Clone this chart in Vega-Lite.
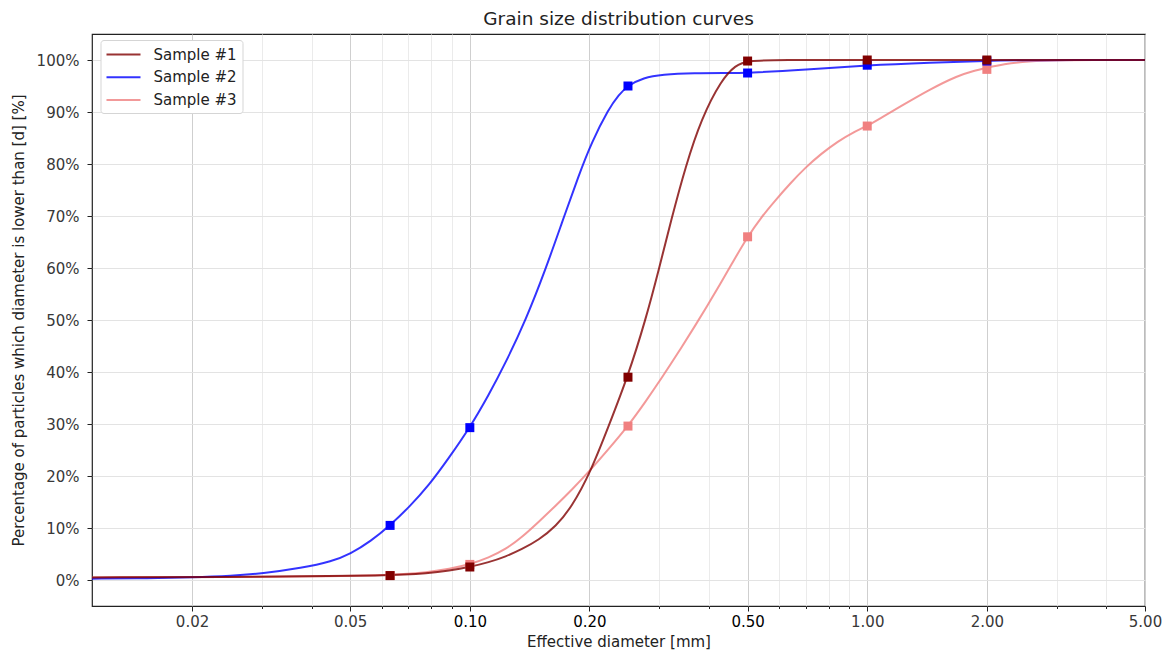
{
  "$schema": "https://vega.github.io/schema/vega-lite/v6.json",
  "width": 1053,
  "height": 572,
  "autosize": "none",
  "padding": {"left": 92, "top": 34, "right": 21, "bottom": 51},
  "background": "white",
  "config": {
    "font": "DejaVu Sans",
    "view": {"stroke": "#222", "strokeWidth": 1.2},
    "axis": {"domain": false, "labelFont": "DejaVu Sans", "titleFont": "DejaVu Sans", "labelFontSize": 15, "titleFontSize": 15, "titleFontWeight": "normal", "titleColor": "#222", "tickColor": "#222", "labelFlush": false, "labelOverlap": false}
  },
  "title": {"text": "Grain size distribution curves", "fontSize": 18.5, "fontWeight": "normal", "color": "#222", "offset": 6, "font": "DejaVu Sans", "anchor": "middle"},
  "datasets": {
    "curves": [
      {"sample": "Sample #3", "d": 0.0112, "pct": 0.5},
      {"sample": "Sample #3", "d": 0.03, "pct": 0.6},
      {"sample": "Sample #3", "d": 0.063, "pct": 0.85},
      {"sample": "Sample #3", "d": 0.0789, "pct": 1.5},
      {"sample": "Sample #3", "d": 0.0886, "pct": 2.1},
      {"sample": "Sample #3", "d": 0.1, "pct": 3.0},
      {"sample": "Sample #3", "d": 0.1116, "pct": 4.3},
      {"sample": "Sample #3", "d": 0.1231, "pct": 5.9},
      {"sample": "Sample #3", "d": 0.1351, "pct": 8.2},
      {"sample": "Sample #3", "d": 0.1491, "pct": 11.2},
      {"sample": "Sample #3", "d": 0.1645, "pct": 14.3},
      {"sample": "Sample #3", "d": 0.1804, "pct": 17.3},
      {"sample": "Sample #3", "d": 0.2014, "pct": 21.2},
      {"sample": "Sample #3", "d": 0.2235, "pct": 25.2},
      {"sample": "Sample #3", "d": 0.25, "pct": 29.6},
      {"sample": "Sample #3", "d": 0.2768, "pct": 34.3},
      {"sample": "Sample #3", "d": 0.3037, "pct": 38.8},
      {"sample": "Sample #3", "d": 0.335, "pct": 43.8},
      {"sample": "Sample #3", "d": 0.3697, "pct": 49.0},
      {"sample": "Sample #3", "d": 0.3985, "pct": 53.1},
      {"sample": "Sample #3", "d": 0.4298, "pct": 57.3},
      {"sample": "Sample #3", "d": 0.4633, "pct": 61.7},
      {"sample": "Sample #3", "d": 0.5, "pct": 66.0},
      {"sample": "Sample #3", "d": 0.5416, "pct": 69.8},
      {"sample": "Sample #3", "d": 0.587, "pct": 73.0},
      {"sample": "Sample #3", "d": 0.6405, "pct": 76.3},
      {"sample": "Sample #3", "d": 0.6987, "pct": 79.3},
      {"sample": "Sample #3", "d": 0.7662, "pct": 82.0},
      {"sample": "Sample #3", "d": 0.8455, "pct": 84.4},
      {"sample": "Sample #3", "d": 0.917, "pct": 86.0},
      {"sample": "Sample #3", "d": 1.0, "pct": 87.3},
      {"sample": "Sample #3", "d": 1.0905, "pct": 89.0},
      {"sample": "Sample #3", "d": 1.196, "pct": 90.8},
      {"sample": "Sample #3", "d": 1.448, "pct": 94.5},
      {"sample": "Sample #3", "d": 1.693, "pct": 97.0},
      {"sample": "Sample #3", "d": 1.846, "pct": 97.9},
      {"sample": "Sample #3", "d": 2.0, "pct": 98.5},
      {"sample": "Sample #3", "d": 2.196, "pct": 99.2},
      {"sample": "Sample #3", "d": 2.538, "pct": 99.8},
      {"sample": "Sample #3", "d": 3.02, "pct": 100},
      {"sample": "Sample #3", "d": 5.0, "pct": 100},
      {"sample": "Sample #2", "d": 0.0112, "pct": 0.25},
      {"sample": "Sample #2", "d": 0.0156, "pct": 0.35},
      {"sample": "Sample #2", "d": 0.02, "pct": 0.5},
      {"sample": "Sample #2", "d": 0.0252, "pct": 0.8},
      {"sample": "Sample #2", "d": 0.03, "pct": 1.25},
      {"sample": "Sample #2", "d": 0.0378, "pct": 2.3},
      {"sample": "Sample #2", "d": 0.045, "pct": 3.6},
      {"sample": "Sample #2", "d": 0.05, "pct": 5.0},
      {"sample": "Sample #2", "d": 0.0564, "pct": 7.5},
      {"sample": "Sample #2", "d": 0.063, "pct": 10.5},
      {"sample": "Sample #2", "d": 0.0703, "pct": 14.0},
      {"sample": "Sample #2", "d": 0.0789, "pct": 18.2},
      {"sample": "Sample #2", "d": 0.0886, "pct": 23.5},
      {"sample": "Sample #2", "d": 0.1, "pct": 29.3},
      {"sample": "Sample #2", "d": 0.1116, "pct": 35.6},
      {"sample": "Sample #2", "d": 0.1231, "pct": 41.8},
      {"sample": "Sample #2", "d": 0.1383, "pct": 50.0},
      {"sample": "Sample #2", "d": 0.1552, "pct": 59.8},
      {"sample": "Sample #2", "d": 0.1703, "pct": 68.6},
      {"sample": "Sample #2", "d": 0.1879, "pct": 77.8},
      {"sample": "Sample #2", "d": 0.2026, "pct": 84.2},
      {"sample": "Sample #2", "d": 0.2235, "pct": 90.6},
      {"sample": "Sample #2", "d": 0.2369, "pct": 93.3},
      {"sample": "Sample #2", "d": 0.25, "pct": 95.1},
      {"sample": "Sample #2", "d": 0.2736, "pct": 96.6},
      {"sample": "Sample #2", "d": 0.3037, "pct": 97.2},
      {"sample": "Sample #2", "d": 0.3697, "pct": 97.5},
      {"sample": "Sample #2", "d": 0.4346, "pct": 97.5},
      {"sample": "Sample #2", "d": 0.5, "pct": 97.5},
      {"sample": "Sample #2", "d": 0.7, "pct": 98.1},
      {"sample": "Sample #2", "d": 1.0, "pct": 99.0},
      {"sample": "Sample #2", "d": 1.45, "pct": 99.5},
      {"sample": "Sample #2", "d": 2.0, "pct": 99.85},
      {"sample": "Sample #2", "d": 2.6, "pct": 100},
      {"sample": "Sample #2", "d": 5.0, "pct": 100},
      {"sample": "Sample #1", "d": 0.0112, "pct": 0.5},
      {"sample": "Sample #1", "d": 0.03, "pct": 0.6},
      {"sample": "Sample #1", "d": 0.063, "pct": 0.85},
      {"sample": "Sample #1", "d": 0.0789, "pct": 1.3},
      {"sample": "Sample #1", "d": 0.0886, "pct": 1.8},
      {"sample": "Sample #1", "d": 0.1, "pct": 2.5},
      {"sample": "Sample #1", "d": 0.1116, "pct": 3.4},
      {"sample": "Sample #1", "d": 0.1231, "pct": 4.5},
      {"sample": "Sample #1", "d": 0.1351, "pct": 5.9},
      {"sample": "Sample #1", "d": 0.1491, "pct": 7.7},
      {"sample": "Sample #1", "d": 0.1645, "pct": 10.3},
      {"sample": "Sample #1", "d": 0.1804, "pct": 14.0},
      {"sample": "Sample #1", "d": 0.2014, "pct": 20.8},
      {"sample": "Sample #1", "d": 0.2235, "pct": 29.6},
      {"sample": "Sample #1", "d": 0.25, "pct": 39.2},
      {"sample": "Sample #1", "d": 0.2768, "pct": 50.0},
      {"sample": "Sample #1", "d": 0.2985, "pct": 59.5},
      {"sample": "Sample #1", "d": 0.3218, "pct": 69.5},
      {"sample": "Sample #1", "d": 0.3489, "pct": 79.5},
      {"sample": "Sample #1", "d": 0.3827, "pct": 88.8},
      {"sample": "Sample #1", "d": 0.4298, "pct": 96.2},
      {"sample": "Sample #1", "d": 0.466, "pct": 99.0},
      {"sample": "Sample #1", "d": 0.5, "pct": 99.9},
      {"sample": "Sample #1", "d": 0.6, "pct": 100},
      {"sample": "Sample #1", "d": 1.0, "pct": 100},
      {"sample": "Sample #1", "d": 2.0, "pct": 100},
      {"sample": "Sample #1", "d": 5.0, "pct": 100}
    ],
    "points": [
      {"sample": "Sample #3", "d": 0.063, "pct": 0.85},
      {"sample": "Sample #3", "d": 0.1, "pct": 3.0},
      {"sample": "Sample #3", "d": 0.25, "pct": 29.6},
      {"sample": "Sample #3", "d": 0.5, "pct": 66.0},
      {"sample": "Sample #3", "d": 1.0, "pct": 87.3},
      {"sample": "Sample #3", "d": 2.0, "pct": 98.2},
      {"sample": "Sample #2", "d": 0.063, "pct": 10.5},
      {"sample": "Sample #2", "d": 0.1, "pct": 29.3},
      {"sample": "Sample #2", "d": 0.25, "pct": 95.0},
      {"sample": "Sample #2", "d": 0.5, "pct": 97.5},
      {"sample": "Sample #2", "d": 1.0, "pct": 99.0},
      {"sample": "Sample #2", "d": 2.0, "pct": 99.8},
      {"sample": "Sample #1", "d": 0.063, "pct": 0.85},
      {"sample": "Sample #1", "d": 0.1, "pct": 2.5},
      {"sample": "Sample #1", "d": 0.25, "pct": 39.0},
      {"sample": "Sample #1", "d": 0.5, "pct": 99.8},
      {"sample": "Sample #1", "d": 1.0, "pct": 100},
      {"sample": "Sample #1", "d": 2.0, "pct": 100}
    ]
  },
  "encoding": {
    "x": {
      "field": "d",
      "type": "quantitative",
      "scale": {"type": "log", "domain": [0.0112, 5], "nice": false},
      "axis": {
        "title": "Effective diameter [mm]",
        "values": [0.02, 0.03, 0.04, 0.05, 0.06, 0.07, 0.08, 0.09, 0.1, 0.2, 0.3, 0.4, 0.5, 0.6, 0.7, 0.8, 0.9, 1, 2, 3, 4, 5],
        "labelExpr": "indexof([0.02, 0.05, 0.1, 0.2, 0.5, 1, 2, 5], datum.value) >= 0 ? format(datum.value, '.2f') : ''",
        "gridColor": {"condition": {"test": "indexof([0.02, 0.05, 0.1, 0.2, 0.5, 1, 2, 5], datum.value) >= 0", "value": "#cfcfcf"}, "value": "#ebebeb"},
        "tickSize": {"condition": {"test": "indexof([0.02, 0.05, 0.1, 0.2, 0.5, 1, 2, 5], datum.value) >= 0", "value": 5}, "value": 2.5},
        "labelColor": {"condition": {"test": "indexof([0.1, 0.2, 0.5], datum.value) >= 0", "value": "#000"}, "value": "#383838"},
        "labelPadding": 3,
        "titlePadding": 5
      }
    },
    "y": {
      "field": "pct",
      "type": "quantitative",
      "scale": {"domain": [-5, 105], "nice": false, "zero": false},
      "axis": {
        "title": "Percentage of particles which diameter is lower than [d] [%]",
        "values": [0, 10, 20, 30, 40, 50, 60, 70, 80, 90, 100],
        "labelExpr": "datum.value + '%'",
        "gridColor": "#e3e3e3",
        "tickSize": 5,
        "labelPadding": 8,
        "labelColor": "#383838",
        "titlePadding": 10
      }
    }
  },
  "layer": [
    {
      "data": {"name": "curves"},
      "mark": {"type": "line", "interpolate": "basis", "strokeWidth": 2, "opacity": 0.8, "clip": true},
      "encoding": {
        "color": {
          "field": "sample",
          "type": "nominal",
          "scale": {"domain": ["Sample #1", "Sample #2", "Sample #3"], "range": ["#800000", "#0000ff", "#f08080"]},
          "legend": {
            "title": null,
            "orient": "none",
            "legendX": 8.5,
            "legendY": 6,
            "symbolType": "M-1,0H3",
            "symbolStrokeWidth": 2,
            "symbolSize": 289,
            "symbolOpacity": 0.8,
            "labelOffset": 29,
            "labelFontSize": 15,
            "labelFont": "DejaVu Sans",
            "labelColor": "#222",
            "rowPadding": 4.7,
            "padding": 5,
            "strokeColor": "#d5d5d5",
            "fillColor": "white",
            "cornerRadius": 3
          }
        }
      }
    },
    {
      "data": {"name": "points"},
      "mark": {"type": "square", "size": 81, "opacity": 1, "filled": true},
      "encoding": {
        "color": {
          "field": "sample",
          "type": "nominal",
          "scale": {"domain": ["Sample #1", "Sample #2", "Sample #3"], "range": ["#800000", "#0000ff", "#f08080"]},
          "legend": null
        }
      }
    }
  ],
  "resolve": {"scale": {"color": "independent"}}
}
